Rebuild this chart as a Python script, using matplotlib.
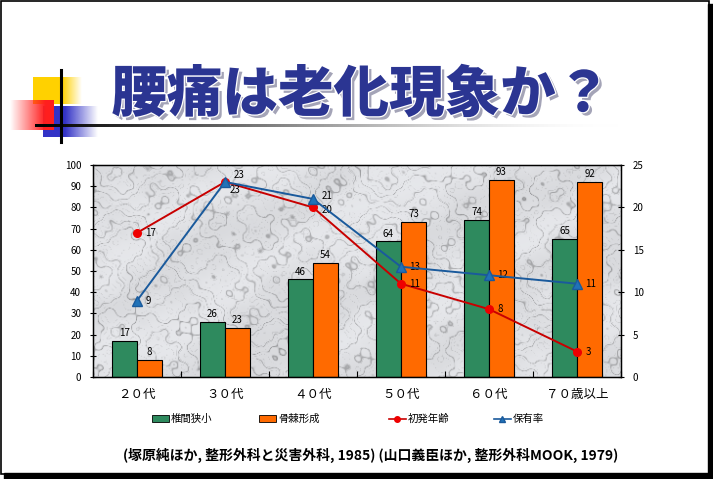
import numpy as np
import matplotlib
matplotlib.use("Agg")
import matplotlib.pyplot as plt
import matplotlib.patheffects as pe
from matplotlib.patches import Rectangle, Patch
from matplotlib.lines import Line2D

plt.rcParams['font.family'] = ['Noto Sans CJK JP', 'DejaVu Sans']

# ---------------- data ----------------
categories = ['２０代', '３０代', '４０代', '５０代', '６０代', '７０歳以上']
narrowing = [17, 26, 46, 64, 74, 65]        # 椎間狭小 (%)
osteophyte = [8, 23, 54, 73, 93, 92]        # 骨棘形成 (%)
onset_age = [17, 23, 20, 11, 8, 3]          # 初発年齢 (right axis)
prevalence = [9, 23, 21, 13, 12, 11]        # 保有率 (right axis)
left_ticks = list(range(0, 101, 10))
right_ticks = list(range(0, 26, 5))
legend_labels = ['椎間狭小', '骨棘形成', '初発年齢', '保有率']
title_text = '腰痛は老化現象か？'
source_text = '(塚原純ほか, 整形外科と災害外科, 1985) (山口義臣ほか, 整形外科MOOK, 1979)'

W, H = 713, 479
fig = plt.figure(figsize=(W / 100, H / 100), dpi=100)
fig.patch.set_facecolor('white')

# ---------------- decoration layer (pixel coords) ----------------
deco = fig.add_axes([0, 0, 1, 1], zorder=0)
deco.set_xlim(0, W)
deco.set_ylim(H, 0)
deco.axis('off')


def grad_rect(ax, x0, x1, y0, y1, rgb, a_left, a_right, solid_frac=0.0, z=1):
    n = 200
    t = np.linspace(0, 1, n)
    if a_left > a_right:
        a = np.where(t < solid_frac, a_left,
                     a_left + (a_right - a_left) * (t - solid_frac) / (1 - solid_frac))
    else:
        a = np.where(t > 1 - solid_frac, a_right,
                     a_left + (a_right - a_left) * t / (1 - solid_frac))
    img = np.zeros((2, n, 4))
    img[..., 0], img[..., 1], img[..., 2] = rgb
    img[..., 3] = a
    ax.imshow(img, extent=(x0, x1, y1, y0), aspect='auto', zorder=z, interpolation='bilinear')


grad_rect(deco, 33, 82, 77, 104, (1.0, 0.82, 0.0), 1, 0, solid_frac=0.6, z=1)
grad_rect(deco, 43, 98, 106, 137, (0.2, 0.2, 0.78), 1, 0, solid_frac=0.4, z=2)
grad_rect(deco, 10, 54, 100, 130, (1.0, 0.12, 0.12), 0, 1, solid_frac=0.2, z=3)
# horizontal rule fading to the right
n = 300
hl = np.zeros((2, n, 4))
g = np.linspace(0, 1, n)
hl[..., 0] = g; hl[..., 1] = g; hl[..., 2] = g
hl[..., 3] = 1 - g ** 2
deco.imshow(hl, extent=(35, 620, 126.5, 123.5), aspect='auto', zorder=4)
deco.plot([61, 61], [70, 142], color='black', lw=2.2, zorder=5)
deco.set_xlim(0, W)
deco.set_ylim(H, 0)

deco.text(361, 95, title_text, fontsize=40, fontweight='heavy', color='#2b3592',
          ha='center', va='center', zorder=6,
          path_effects=[pe.SimplePatchShadow(offset=(2.5, -2.5), shadow_rgbFace='#9a9ab0', alpha=0.9),
                        pe.Stroke(linewidth=1.8, foreground='white'), pe.Normal()])

# slide border with shadow
deco.add_patch(Rectangle((0.5, 0.5), W - 5, H - 6, fill=False, edgecolor='black', lw=1.2, zorder=10))
deco.add_patch(Rectangle((W - 5, 4), 5, H - 4, color='black', zorder=10))
deco.add_patch(Rectangle((4, H - 6), W - 4, 6, color='black', zorder=10))

# ---------------- chart ----------------
ax = fig.add_axes([93 / W, 1 - 377 / H, 528 / W, 212 / H], zorder=2)
x = np.arange(len(categories))

# marble-like background (deterministic procedural pattern)
yy, xx = np.mgrid[0:220, 0:540].astype(float)
turb = (np.sin(xx * 0.021 + 1.3) * np.cos(yy * 0.029) + 0.6 * np.sin(xx * 0.047 + yy * 0.041)
        + 0.35 * np.sin(xx * 0.093 - yy * 0.081 + 0.7) + 0.18 * np.cos(xx * 0.19 + yy * 0.23)
        + 0.08 * np.sin(xx * 0.41 - yy * 0.37))
phase = (xx * 0.018 - yy * 0.026) + 1.6 * turb
vein = np.exp(-(np.sin(phase * 3.0) ** 2) / 0.025)
vein2 = np.exp(-(np.sin(phase * 7.3 + 1.1) ** 2) / 0.01)
cloud = 0.5 + 0.5 * np.sin(xx * 0.03 + yy * 0.05 + turb)
tex = 0.92 - 0.05 * cloud - 0.22 * vein - 0.10 * vein2
tex = np.clip(tex, 0, 1)
rgb = np.dstack([tex * 0.98, tex * 0.985, tex * 1.0])
rgb = np.clip(rgb, 0, 1)
ax.imshow(rgb, extent=(0, 1, 0, 1), transform=ax.transAxes, aspect='auto', zorder=0,
          interpolation='bilinear')

bw = 0.285
green = '#2e8a5e'
orange = '#ff6a00'
b1 = ax.bar(x - bw / 2, narrowing, bw, color=green, edgecolor='black', lw=0.8, zorder=2)
b2 = ax.bar(x + bw / 2, osteophyte, bw, color=orange, edgecolor='black', lw=0.8, zorder=2)
for rects, vals in ((b1, narrowing), (b2, osteophyte)):
    for r, v in zip(rects, vals):
        ax.annotate(str(v), (r.get_x() + r.get_width() / 2, v), xytext=(0, 2),
                    textcoords='offset points', ha='center', va='bottom', fontsize=7)

ax.set_xlim(-0.5, len(categories) - 0.5)
ax.set_ylim(0, 100)
ax.set_yticks(left_ticks)
ax.set_yticklabels([str(t) for t in left_ticks], fontsize=7)
ax.set_xticks(x)
ax.set_xticklabels(categories, fontsize=9)
ax.tick_params(axis='x', length=0, pad=8)
ax.set_xticks(np.arange(len(categories) + 1) - 0.5, minor=True)
ax.tick_params(axis='x', which='minor', direction='in', length=4, width=0.8)
ax.tick_params(axis='y', direction='inout', length=5, width=0.8, pad=6)
for s in ax.spines.values():
    s.set_linewidth(1.0)

ax2 = ax.twinx()
ax2.set_ylim(0, 25)
ax2.set_yticks(right_ticks)
ax2.set_yticklabels([str(t) for t in right_ticks], fontsize=7)
ax2.tick_params(axis='y', direction='inout', length=5, width=0.8, pad=6)
red_line = '#c80000'
blue_line = '#1a5a9c'
ax2.plot(x, onset_age, color=red_line, lw=1.4, marker='o', ms=5.5,
         mfc='#ee0000', mec='#ee0000', zorder=3)
ax2.plot(x, prevalence, color=blue_line, lw=1.4, marker='^', ms=6.5,
         mfc='#2072b8', mec='#1a5a9c', zorder=4)

for i, v in enumerate(onset_age):
    dy = -6 if i == 1 else (-2 if i == 2 else 0)
    dx = 3 if i == 1 else 6
    ax2.annotate(str(v), (x[i], v), xytext=(dx, dy), textcoords='offset points',
                 ha='left', va='center', fontsize=7)
for i, v in enumerate(prevalence):
    dy = 5 if i == 1 else (2 if i == 2 else 0)
    ax2.annotate(str(v), (x[i], v), xytext=(6, dy), textcoords='offset points',
                 ha='left', va='center', fontsize=7)

# ---------------- legend ----------------
handles = [Patch(facecolor=green, edgecolor='black', lw=0.6),
           Patch(facecolor=orange, edgecolor='black', lw=0.6),
           Line2D([], [], color=red_line, lw=1.2, marker='o', ms=4, mfc='#ee0000', mec='#ee0000'),
           Line2D([], [], color=blue_line, lw=1.2, marker='^', ms=4.5, mfc='#2072b8', mec='#1a5a9c')]
xs = [152, 259, 389, 494]
for h, lab, xp in zip(handles, legend_labels, xs):
    fig.legend([h], [lab], loc='center left', bbox_to_anchor=(xp / W, 1 - 419 / H),
               frameon=False, fontsize=7.5, handlelength=1.6, handleheight=0.6,
               handletextpad=0.2, borderpad=0, borderaxespad=0)

fig.text(371 / W, 1 - 455 / H, source_text, fontsize=10, fontweight='bold',
         ha='center', va='center', color='black')

fig.savefig('out.png', dpi=100)
